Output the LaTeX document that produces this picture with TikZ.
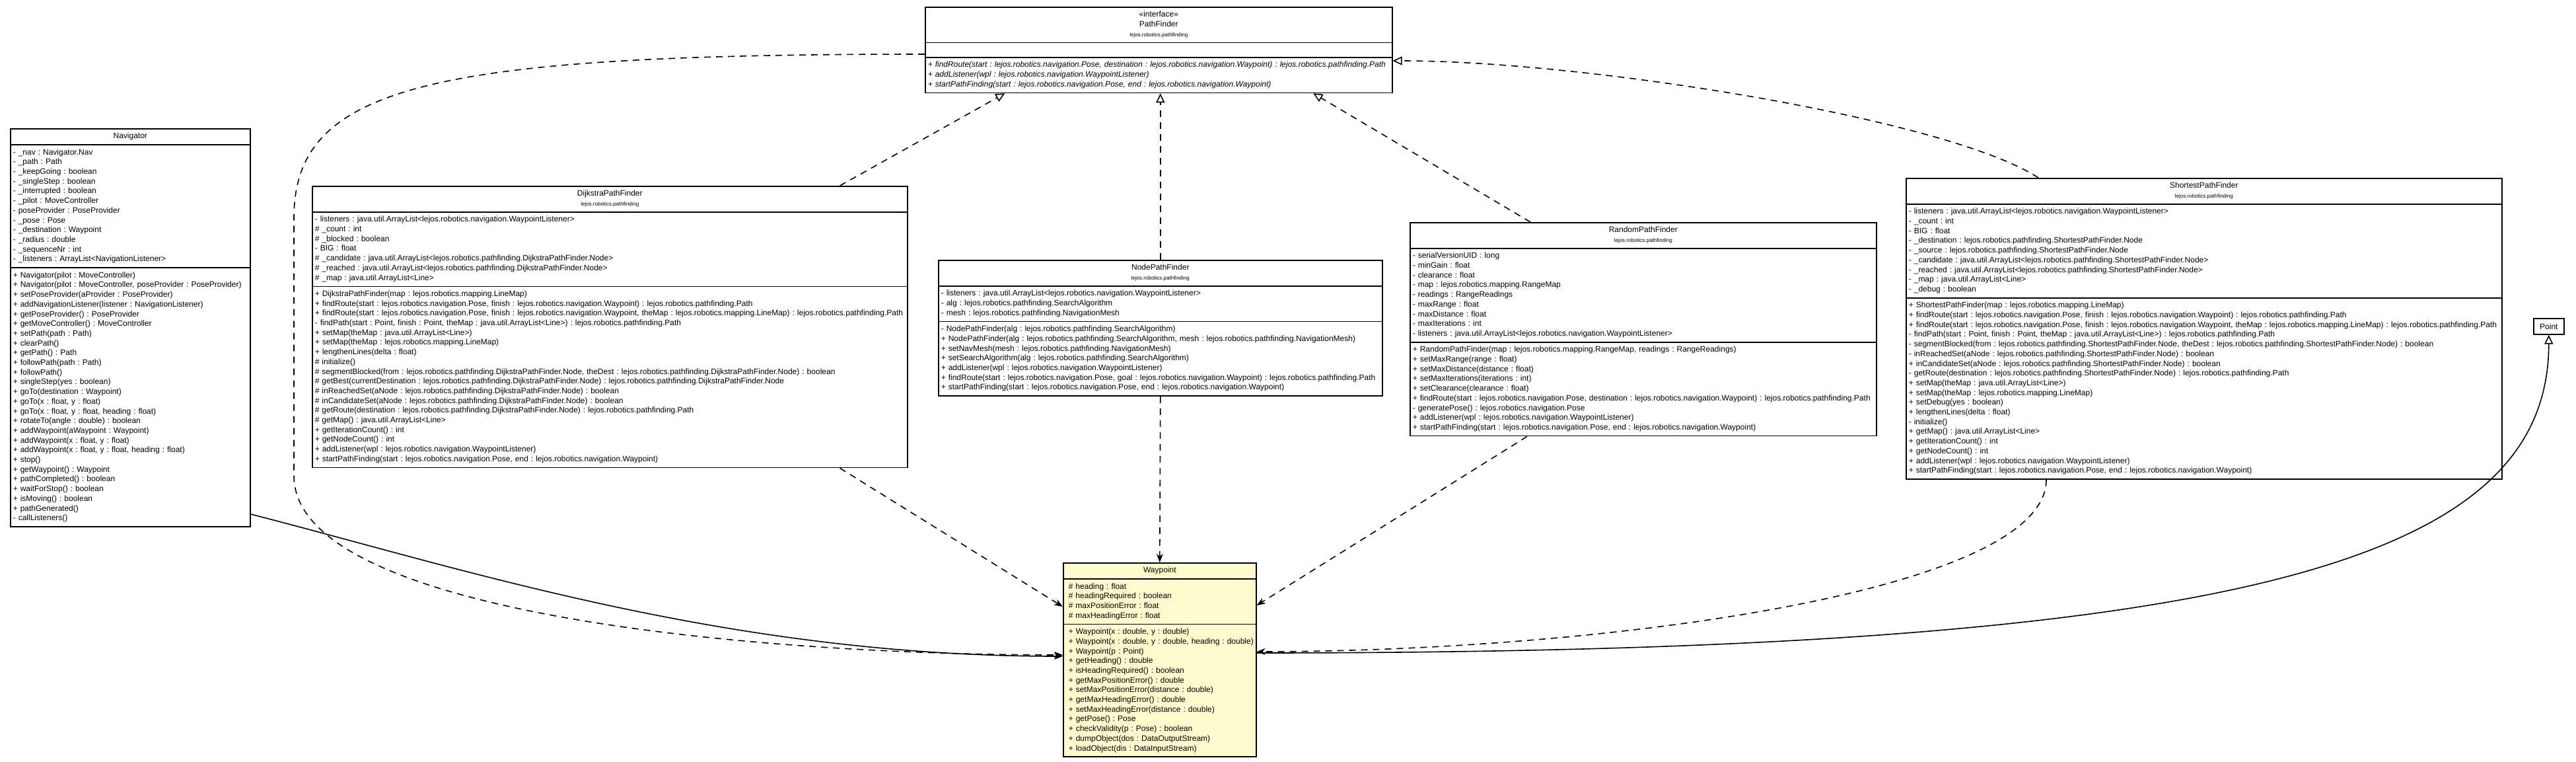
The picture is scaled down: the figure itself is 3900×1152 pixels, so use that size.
\documentclass[tikz,border=0pt]{standalone}
\usepackage{fontspec}
\setmainfont{Liberation Sans}
\usetikzlibrary{shapes.multipart,arrows.meta}
\frenchspacing

\newcommand{\members}[1]{\begin{tabular}{@{}l@{}}#1\end{tabular}}
\newcommand{\onlyname}[1]{\centering\begin{tabular}{@{}c@{}}#1\end{tabular}\par}
\newcommand{\withpkg}[2]{\centering\begin{tabular}{@{}c@{}}#1\\{\fontsize{8}{9}\selectfont #2}\end{tabular}\par}

\begin{document}
\begin{tikzpicture}[x=1pt,y=-1pt,
    umlclass/.style={draw,fill=white,line width=1.6pt,rectangle split,rectangle split parts=3,
      inner xsep=4pt,inner ysep=4pt,anchor=north west,font=\fontsize{12}{14.7}\selectfont\frenchspacing},
    realize/.style={line width=1.6pt,dash pattern=on 10pt off 8pt,-{Triangle[open,length=14pt,width=13pt]}},
    depend/.style={line width=1.6pt,dash pattern=on 10pt off 8pt,-{Stealth[length=13pt,width=10pt,inset=4pt]}},
    assoc/.style={line width=1.6pt,-{Stealth[length=13pt,width=10pt,inset=4pt]}},
    inherit/.style={line width=1.6pt,-{Triangle[open,length=14pt,width=13pt]}}]
  \useasboundingbox[fill=white] (0,0) rectangle (3900,1152);

  \node[umlclass,text width=699pt] (pathfinder) at (1400,10)
    {\centering\begin{tabular}{@{}c@{}}«interface»\\PathFinder\\{\fontsize{8}{9}\selectfont lejos.robotics.pathfinding}\end{tabular}\par
     \nodepart{two}\rule{0pt}{12.7pt}
     \nodepart{three}\members{\textit{+ findRoute(start : lejos.robotics.navigation.Pose, destination : lejos.robotics.navigation.Waypoint) : lejos.robotics.pathfinding.Path}\\
       \textit{+ addListener(wpl : lejos.robotics.navigation.WaypointListener)}\\
       \textit{+ startPathFinding(start : lejos.robotics.navigation.Pose, end : lejos.robotics.navigation.Waypoint)}}};

  \node[umlclass,text width=355pt] (navigator) at (15,194)
    {\onlyname{Navigator}
     \nodepart{two}\members{- \_nav : Navigator.Nav\\
       - \_path : Path\\
       - \_keepGoing : boolean\\
       - \_singleStep : boolean\\
       - \_interrupted : boolean\\
       - \_pilot : MoveController\\
       - poseProvider : PoseProvider\\
       - \_pose : Pose\\
       - \_destination : Waypoint\\
       - \_radius : double\\
       - \_sequenceNr : int\\
       - \_listeners : ArrayList<NavigationListener>}
     \nodepart{three}\members{+ Navigator(pilot : MoveController)\\
       + Navigator(pilot : MoveController, poseProvider : PoseProvider)\\
       + setPoseProvider(aProvider : PoseProvider)\\
       + addNavigationListener(listener : NavigationListener)\\
       + getPoseProvider() : PoseProvider\\
       + getMoveController() : MoveController\\
       + setPath(path : Path)\\
       + clearPath()\\
       + getPath() : Path\\
       + followPath(path : Path)\\
       + followPath()\\
       + singleStep(yes : boolean)\\
       + goTo(destination : Waypoint)\\
       + goTo(x : float, y : float)\\
       + goTo(x : float, y : float, heading : float)\\
       + rotateTo(angle : double) : boolean\\
       + addWaypoint(aWaypoint : Waypoint)\\
       + addWaypoint(x : float, y : float)\\
       + addWaypoint(x : float, y : float, heading : float)\\
       + stop()\\
       + getWaypoint() : Waypoint\\
       + pathCompleted() : boolean\\
       + waitForStop() : boolean\\
       + isMoving() : boolean\\
       + pathGenerated()\\
       - callListeners()}};

  \node[umlclass,text width=893pt] (dijkstra) at (472,281)
    {\withpkg{DijkstraPathFinder}{lejos.robotics.pathfinding}
     \nodepart{two}\members{- listeners : java.util.ArrayList<lejos.robotics.navigation.WaypointListener>\\
       \# \_count : int\\
       \# \_blocked : boolean\\
       - BIG : float\\
       \# \_candidate : java.util.ArrayList<lejos.robotics.pathfinding.DijkstraPathFinder.Node>\\
       \# \_reached : java.util.ArrayList<lejos.robotics.pathfinding.DijkstraPathFinder.Node>\\
       \# \_map : java.util.ArrayList<Line>}
     \nodepart{three}\members{+ DijkstraPathFinder(map : lejos.robotics.mapping.LineMap)\\
       + findRoute(start : lejos.robotics.navigation.Pose, finish : lejos.robotics.navigation.Waypoint) : lejos.robotics.pathfinding.Path\\
       + findRoute(start : lejos.robotics.navigation.Pose, finish : lejos.robotics.navigation.Waypoint, theMap : lejos.robotics.mapping.LineMap) : lejos.robotics.pathfinding.Path\\
       - findPath(start : Point, finish : Point, theMap : java.util.ArrayList<Line>) : lejos.robotics.pathfinding.Path\\
       + setMap(theMap : java.util.ArrayList<Line>)\\
       + setMap(theMap : lejos.robotics.mapping.LineMap)\\
       + lengthenLines(delta : float)\\
       \# initialize()\\
       \# segmentBlocked(from : lejos.robotics.pathfinding.DijkstraPathFinder.Node, theDest : lejos.robotics.pathfinding.DijkstraPathFinder.Node) : boolean\\
       \# getBest(currentDestination : lejos.robotics.pathfinding.DijkstraPathFinder.Node) : lejos.robotics.pathfinding.DijkstraPathFinder.Node\\
       \# inReachedSet(aNode : lejos.robotics.pathfinding.DijkstraPathFinder.Node) : boolean\\
       \# inCandidateSet(aNode : lejos.robotics.pathfinding.DijkstraPathFinder.Node) : boolean\\
       \# getRoute(destination : lejos.robotics.pathfinding.DijkstraPathFinder.Node) : lejos.robotics.pathfinding.Path\\
       \# getMap() : java.util.ArrayList<Line>\\
       + getIterationCount() : int\\
       + getNodeCount() : int\\
       + addListener(wpl : lejos.robotics.navigation.WaypointListener)\\
       + startPathFinding(start : lejos.robotics.navigation.Pose, end : lejos.robotics.navigation.Waypoint)}};

  \node[umlclass,text width=664pt] (nodepf) at (1420,393)
    {\withpkg{NodePathFinder}{lejos.robotics.pathfinding}
     \nodepart{two}\members{- listeners : java.util.ArrayList<lejos.robotics.navigation.WaypointListener>\\
       - alg : lejos.robotics.pathfinding.SearchAlgorithm\\
       - mesh : lejos.robotics.pathfinding.NavigationMesh}
     \nodepart{three}\members{- NodePathFinder(alg : lejos.robotics.pathfinding.SearchAlgorithm)\\
       + NodePathFinder(alg : lejos.robotics.pathfinding.SearchAlgorithm, mesh : lejos.robotics.pathfinding.NavigationMesh)\\
       + setNavMesh(mesh : lejos.robotics.pathfinding.NavigationMesh)\\
       + setSearchAlgorithm(alg : lejos.robotics.pathfinding.SearchAlgorithm)\\
       + addListener(wpl : lejos.robotics.navigation.WaypointListener)\\
       + findRoute(start : lejos.robotics.navigation.Pose, goal : lejos.robotics.navigation.Waypoint) : lejos.robotics.pathfinding.Path\\
       + startPathFinding(start : lejos.robotics.navigation.Pose, end : lejos.robotics.navigation.Waypoint)}};

  \node[umlclass,text width=698pt] (randompf) at (2134,336)
    {\withpkg{RandomPathFinder}{lejos.robotics.pathfinding}
     \nodepart{two}\members{- serialVersionUID : long\\
       - minGain : float\\
       - clearance : float\\
       - map : lejos.robotics.mapping.RangeMap\\
       - readings : RangeReadings\\
       - maxRange : float\\
       - maxDistance : float\\
       - maxIterations : int\\
       - listeners : java.util.ArrayList<lejos.robotics.navigation.WaypointListener>}
     \nodepart{three}\members{+ RandomPathFinder(map : lejos.robotics.mapping.RangeMap, readings : RangeReadings)\\
       + setMaxRange(range : float)\\
       + setMaxDistance(distance : float)\\
       + setMaxIterations(iterations : int)\\
       + setClearance(clearance : float)\\
       + findRoute(start : lejos.robotics.navigation.Pose, destination : lejos.robotics.navigation.Waypoint) : lejos.robotics.pathfinding.Path\\
       - generatePose() : lejos.robotics.navigation.Pose\\
       + addListener(wpl : lejos.robotics.navigation.WaypointListener)\\
       + startPathFinding(start : lejos.robotics.navigation.Pose, end : lejos.robotics.navigation.Waypoint)}};

  \node[umlclass,text width=894pt] (shortestpf) at (2885,269)
    {\withpkg{ShortestPathFinder}{lejos.robotics.pathfinding}
     \nodepart{two}\members{- listeners : java.util.ArrayList<lejos.robotics.navigation.WaypointListener>\\
       - \_count : int\\
       - BIG : float\\
       - \_destination : lejos.robotics.pathfinding.ShortestPathFinder.Node\\
       - \_source : lejos.robotics.pathfinding.ShortestPathFinder.Node\\
       - \_candidate : java.util.ArrayList<lejos.robotics.pathfinding.ShortestPathFinder.Node>\\
       - \_reached : java.util.ArrayList<lejos.robotics.pathfinding.ShortestPathFinder.Node>\\
       - \_map : java.util.ArrayList<Line>\\
       - \_debug : boolean}
     \nodepart{three}\members{+ ShortestPathFinder(map : lejos.robotics.mapping.LineMap)\\
       + findRoute(start : lejos.robotics.navigation.Pose, finish : lejos.robotics.navigation.Waypoint) : lejos.robotics.pathfinding.Path\\
       + findRoute(start : lejos.robotics.navigation.Pose, finish : lejos.robotics.navigation.Waypoint, theMap : lejos.robotics.mapping.LineMap) : lejos.robotics.pathfinding.Path\\
       - findPath(start : Point, finish : Point, theMap : java.util.ArrayList<Line>) : lejos.robotics.pathfinding.Path\\
       - segmentBlocked(from : lejos.robotics.pathfinding.ShortestPathFinder.Node, theDest : lejos.robotics.pathfinding.ShortestPathFinder.Node) : boolean\\
       - inReachedSet(aNode : lejos.robotics.pathfinding.ShortestPathFinder.Node) : boolean\\
       + inCandidateSet(aNode : lejos.robotics.pathfinding.ShortestPathFinder.Node) : boolean\\
       - getRoute(destination : lejos.robotics.pathfinding.ShortestPathFinder.Node) : lejos.robotics.pathfinding.Path\\
       + setMap(theMap : java.util.ArrayList<Line>)\\
       + setMap(theMap : lejos.robotics.mapping.LineMap)\\
       + setDebug(yes : boolean)\\
       + lengthenLines(delta : float)\\
       - initialize()\\
       + getMap() : java.util.ArrayList<Line>\\
       + getIterationCount() : int\\
       + getNodeCount() : int\\
       + addListener(wpl : lejos.robotics.navigation.WaypointListener)\\
       + startPathFinding(start : lejos.robotics.navigation.Pose, end : lejos.robotics.navigation.Waypoint)}};

  \node[umlclass,fill={rgb,255:red,255;green,250;blue,205},inner xsep=8pt,text width=276pt] (waypoint) at (1609,851)
    {\onlyname{Waypoint}
     \nodepart{two}\members{\# heading : float\\
       \# headingRequired : boolean\\
       \# maxPositionError : float\\
       \# maxHeadingError : float}
     \nodepart{three}\members{+ Waypoint(x : double, y : double)\\
       + Waypoint(x : double, y : double, heading : double)\\
       + Waypoint(p : Point)\\
       + getHeading() : double\\
       + isHeadingRequired() : boolean\\
       + getMaxPositionError() : double\\
       + setMaxPositionError(distance : double)\\
       + getMaxHeadingError() : double\\
       + setMaxHeadingError(distance : double)\\
       + getPose() : Pose\\
       + checkValidity(p : Pose) : boolean\\
       + dumpObject(dos : DataOutputStream)\\
       + loadObject(dis : DataInputStream)}};

  \node[draw,fill=white,line width=1.6pt,anchor=north west,minimum width=46pt,minimum height=24pt,inner sep=0pt,font=\fontsize{12}{14.7}\selectfont] (point) at (3835,481) {Point};

  % implementations of PathFinder
  \draw[realize] ([xshift=-103pt]dijkstra.north east) -- ([xshift=-233pt]pathfinder.south);
  \draw[realize] (nodepf.north) -- (nodepf.north |- pathfinder.south);
  \draw[realize] ([xshift=183pt]randompf.north west) -- ([xshift=234pt]pathfinder.south);
  \draw[realize] ([xshift=201pt]shortestpf.north west) .. controls (2950,180) and (2400,92) .. ([yshift=-82pt]pathfinder.north east);

  % uses of Waypoint
  \draw[depend] ([yshift=-72pt]pathfinder.north west) .. controls (650,82) and (445,130) .. (445,330) -- (445,720) .. controls (445,930) and (1150,991) .. ([yshift=-140pt]waypoint.north west);
  \draw[assoc] ([yshift=-584pt]navigator.north east) .. controls (700,860) and (1100,993) .. ([yshift=-142pt]waypoint.north west);
  \draw[depend] ([xshift=-103pt]dijkstra.south east) -- ([yshift=-67pt]waypoint.north west);
  \draw[depend] (nodepf.south) -- (waypoint.north);
  \draw[depend] ([xshift=178pt]randompf.south west) -- ([yshift=-65pt]waypoint.north east);
  \draw[depend] ([xshift=213pt]shortestpf.south west) .. controls (3098,900) and (2400,986) .. ([yshift=-135pt]waypoint.north east);
  \draw[inherit] ([yshift=-137pt]waypoint.north east) .. controls (3400,988) and (3858,850) .. (point.south);
\end{tikzpicture}
\end{document}
